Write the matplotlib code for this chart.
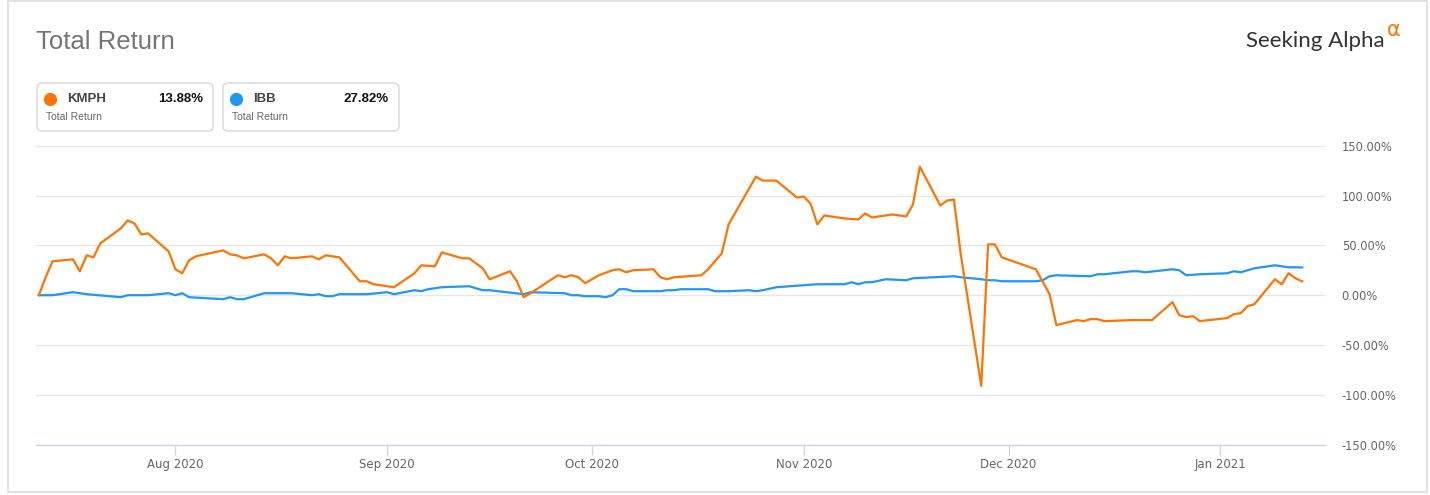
import matplotlib
matplotlib.use("Agg")
import matplotlib.pyplot as plt
import matplotlib.dates as mdates
from matplotlib.lines import Line2D
from matplotlib.patches import FancyBboxPatch, Rectangle
from matplotlib.ticker import FuncFormatter
from matplotlib.transforms import IdentityTransform
import pandas as pd

# data (total return, %)
kmph_dates = [
    "2020-07-12", "2020-07-13", "2020-07-14", "2020-07-17", "2020-07-18", "2020-07-19", "2020-07-20",
    "2020-07-21", "2020-07-24", "2020-07-25", "2020-07-26", "2020-07-27", "2020-07-28", "2020-07-31",
    "2020-08-01", "2020-08-02", "2020-08-03", "2020-08-04", "2020-08-08", "2020-08-09", "2020-08-10",
    "2020-08-11", "2020-08-14", "2020-08-15", "2020-08-16", "2020-08-17", "2020-08-18", "2020-08-21",
    "2020-08-22", "2020-08-23", "2020-08-24", "2020-08-25", "2020-08-28", "2020-08-29", "2020-08-30",
    "2020-09-02", "2020-09-05", "2020-09-06", "2020-09-08", "2020-09-09", "2020-09-12", "2020-09-13",
    "2020-09-14", "2020-09-15", "2020-09-16", "2020-09-19", "2020-09-20", "2020-09-21", "2020-09-22",
    "2020-09-26", "2020-09-27", "2020-09-28", "2020-09-29", "2020-09-30",
    "2020-10-02", "2020-10-04", "2020-10-05", "2020-10-06", "2020-10-07", "2020-10-10", "2020-10-11",
    "2020-10-12", "2020-10-13", "2020-10-17", "2020-10-18", "2020-10-19", "2020-10-20", "2020-10-21",
    "2020-10-25", "2020-10-26", "2020-10-28", "2020-10-31",
    "2020-11-01", "2020-11-02", "2020-11-03", "2020-11-04", "2020-11-07", "2020-11-09", "2020-11-10",
    "2020-11-11", "2020-11-14", "2020-11-16", "2020-11-17", "2020-11-18", "2020-11-21", "2020-11-22",
    "2020-11-23", "2020-11-24", "2020-11-27", "2020-11-28", "2020-11-29", "2020-11-30",
    "2020-12-05", "2020-12-07", "2020-12-08", "2020-12-11", "2020-12-12", "2020-12-13", "2020-12-14",
    "2020-12-15", "2020-12-19", "2020-12-22", "2020-12-25", "2020-12-26", "2020-12-27", "2020-12-28",
    "2020-12-29",
    "2021-01-02", "2021-01-03", "2021-01-04", "2021-01-05", "2021-01-06", "2021-01-09", "2021-01-10",
    "2021-01-11", "2021-01-12", "2021-01-13",
]
kmph_values = [
    0, 18, 34, 36, 24, 40, 38, 52, 67, 75, 72, 61, 62, 44,
    26, 22, 35, 39, 45, 41, 40, 37, 41, 37, 30, 39, 37, 39, 36, 40, 39, 38, 14, 14, 11,
    8, 22, 30, 29, 43, 37, 37, 32, 27, 16, 24, 14, -2, 2, 20, 18, 20, 18, 12,
    20, 25, 26, 23, 25, 26, 18, 16, 18, 20, 26, 34, 42, 71, 119, 115, 115, 98,
    99, 92, 71, 80, 77, 76, 82, 78, 81, 79, 91, 129, 90, 95, 96, 41, -91, 51, 51, 38,
    26, 1, -30, -25, -26, -24, -24, -26, -25, -25, -7, -20, -22, -21, -26,
    -23, -19, -18, -11, -9, 16, 11, 22, 17, 13.88,
]

ibb_dates = [
    "2020-07-12", "2020-07-14", "2020-07-17", "2020-07-19", "2020-07-24", "2020-07-25", "2020-07-28",
    "2020-07-31",
    "2020-08-01", "2020-08-02", "2020-08-03", "2020-08-08", "2020-08-09", "2020-08-10", "2020-08-11",
    "2020-08-14", "2020-08-15", "2020-08-18", "2020-08-21", "2020-08-22", "2020-08-23", "2020-08-24",
    "2020-08-25", "2020-08-29",
    "2020-09-01", "2020-09-02", "2020-09-05", "2020-09-06", "2020-09-07", "2020-09-09", "2020-09-13",
    "2020-09-15", "2020-09-16", "2020-09-21", "2020-09-22", "2020-09-27", "2020-09-28", "2020-09-29",
    "2020-09-30",
    "2020-10-02", "2020-10-03", "2020-10-04", "2020-10-05", "2020-10-06", "2020-10-07", "2020-10-11",
    "2020-10-12", "2020-10-13", "2020-10-14", "2020-10-18", "2020-10-19", "2020-10-21", "2020-10-24",
    "2020-10-25", "2020-10-26", "2020-10-28",
    "2020-11-01", "2020-11-03", "2020-11-07", "2020-11-08", "2020-11-09", "2020-11-10", "2020-11-11",
    "2020-11-13", "2020-11-16", "2020-11-17", "2020-11-23", "2020-11-24", "2020-11-27", "2020-11-28",
    "2020-11-29", "2020-11-30",
    "2020-12-05", "2020-12-06", "2020-12-07", "2020-12-08", "2020-12-13", "2020-12-14", "2020-12-15",
    "2020-12-19", "2020-12-20", "2020-12-21", "2020-12-25", "2020-12-26", "2020-12-27", "2020-12-29",
    "2021-01-02", "2021-01-03", "2021-01-04", "2021-01-05", "2021-01-06", "2021-01-09", "2021-01-10",
    "2021-01-11", "2021-01-12", "2021-01-13",
]
ibb_values = [
    0, 0, 3, 1, -2, 0, 0, 2,
    0, 2, -2, -4, -2, -4, -4, 2, 2, 2, 0, 1, -1, -1, 1, 1,
    3, 1, 5, 4, 6, 8, 9, 5, 5, 1, 3, 2, 0, 0, -1,
    -1, -2, 0, 6, 6, 4, 4, 5, 5, 6, 6, 4, 4, 5, 4, 5, 8,
    10, 11, 11, 13, 11, 13, 13, 16, 15, 17, 19, 18, 16, 15, 15, 14,
    14, 15, 19, 20, 19, 21, 21, 24, 24, 23, 26, 25, 20, 21,
    22, 24, 23, 25, 27, 30, 29, 28, 28, 27.82,
]

series_names = ["KMPH", "IBB"]
series_colors = ["#ff7400", "#2196f3"]
month_ticks = ["2020-08-01", "2020-09-01", "2020-10-01", "2020-11-01", "2020-12-01", "2021-01-01"]
y_ticks = [-150, -100, -50, 0, 50, 100, 150]

W, H = 1430, 495
fig = plt.figure(figsize=(W / 100, H / 100), dpi=100)
plt.rcParams["font.family"] = ["Liberation Sans", "DejaVu Sans"]


def fx(x):
    return x / W


def fy(y):
    return 1 - y / H


# outer panel frame
fig.add_artist(Rectangle((8, 3), 1419, 491, fill=False, edgecolor="#e2e2e2",
                         lw=1.5, transform=IdentityTransform()))

ax = fig.add_axes([fx(36), fy(444.7), fx(1325) - fx(36), (444.7 - 145.7) / H])

kd = pd.to_datetime(kmph_dates)
idt = pd.to_datetime(ibb_dates)
ax.plot(idt, ibb_values, color=series_colors[1], lw=1.6, solid_joinstyle="round", zorder=3)
ax.plot(kd, kmph_values, color=series_colors[0], lw=1.6, solid_joinstyle="round", zorder=4)

ax.set_ylim(-150, 150)
ax.set_xlim(pd.Timestamp("2020-07-11 14:00"), pd.Timestamp("2021-01-16 08:00"))

ax.set_yticks(y_ticks)
ax.yaxis.set_major_formatter(FuncFormatter(lambda v, p: f"{v:.2f}%"))
ax.yaxis.tick_right()
ax.tick_params(axis="y", length=0, pad=12, labelsize=8.3, labelcolor="#666666")
ax.grid(axis="y", color="#e6e6e6", lw=1)
ax.set_axisbelow(True)

ax.set_xticks(pd.to_datetime(month_ticks))
ax.xaxis.set_major_formatter(mdates.DateFormatter("%b %Y"))
ax.tick_params(axis="x", length=7, width=1, color="#ccd6eb", pad=2.5,
               labelsize=8.5, labelcolor="#666666")
for lbl in ax.get_xticklabels() + ax.get_yticklabels():
    lbl.set_family(["DejaVu Sans"])

for s in ["top", "left", "right"]:
    ax.spines[s].set_visible(False)
ax.spines["bottom"].set_color("#ccd6eb")
ax.spines["bottom"].set_linewidth(1)

# title and logo
fig.text(fx(36), fy(42), "Total Return", fontsize=18.5, color="#757575", va="center", ha="left")
fig.text(fx(1385), fy(41), "Seeking Alpha", fontsize=16, color="#333333", va="center",
         ha="right", family=["Lato", "DejaVu Sans"])
fig.text(fx(1387), fy(30), "\u03b1", fontsize=15, color="#ff7400", va="center", ha="left",
         family=["DejaVu Sans"])

# legend boxes
box_left = [37, 223]
finals = [kmph_values[-1], ibb_values[-1]]
for i, name in enumerate(series_names):
    x0 = box_left[i]
    fig.add_artist(FancyBboxPatch((x0, H - 131), 176, 48,
                                  boxstyle="round,pad=0,rounding_size=5",
                                  facecolor="white", edgecolor="#d8d8d8", lw=1,
                                  transform=IdentityTransform()))
    fig.add_artist(Line2D([fx(x0 + 13)], [fy(99)], marker="o", ms=8.5, color=series_colors[i],
                          transform=fig.transFigure))
    fig.text(fx(x0 + 30), fy(99), name, fontsize=9.5, color="#444444", va="center",
             ha="left", fontweight="bold")
    fig.text(fx(x0 + 166), fy(99), f"{finals[i]:.2f}%", fontsize=9.5, color="#111111",
             va="center", ha="right", fontweight="bold")
    fig.text(fx(x0 + 9), fy(117), "Total Return", fontsize=7.5, color="#666666",
             va="center", ha="left")

fig.savefig("out.png", dpi=100)
